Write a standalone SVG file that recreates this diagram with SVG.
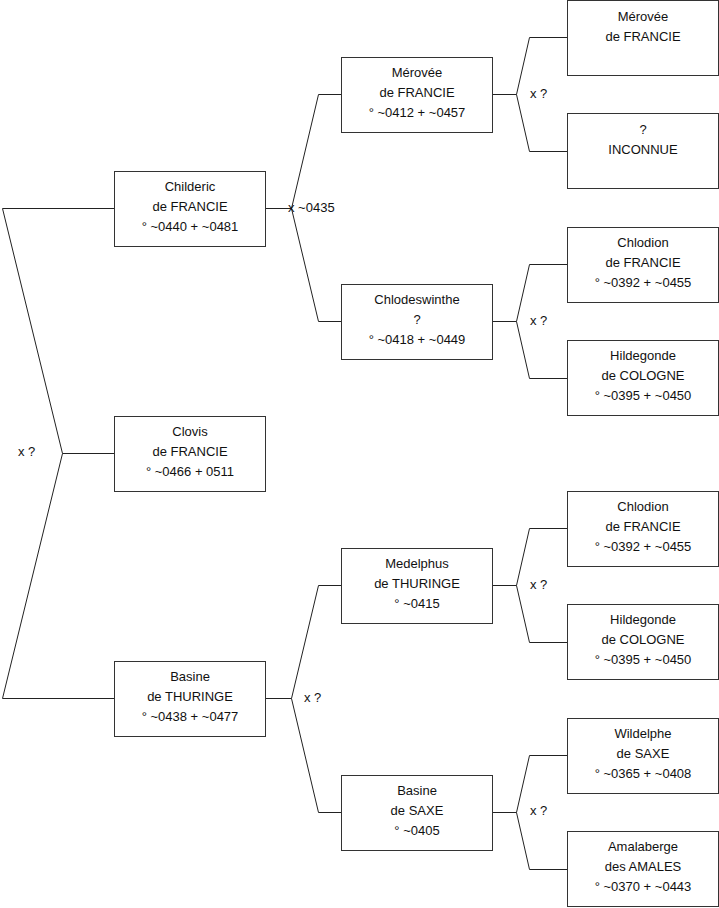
<svg xmlns="http://www.w3.org/2000/svg" width="719" height="908" viewBox="0 0 719 908">
<style>
.box{fill:#fff;stroke:#333;stroke-width:1}
.t{font-family:"Liberation Sans",Arial,sans-serif;font-size:13px;fill:#111;text-anchor:middle}
.l{font-family:"Liberation Sans",Arial,sans-serif;font-size:13px;fill:#111}
.c{fill:none;stroke:#222;stroke-width:1}
</style>
<rect width="719" height="908" fill="#fff"/>
<g id="connectors">
<path class="c" d="M114.5,208.5 H2.5 L62.5,453.5 L2.5,698.5 H114.5 M62.5,453.5 H114.5"/>
<path class="c" d="M265.5,208.5 H291.5 M341.5,94.5 H318.5 L291.5,208.5 L318.5,321.5 H341.5"/>
<path class="c" d="M265.5,698.5 H291.5 M341.5,585.5 H318.5 L291.5,698.5 L318.5,812.5 H341.5"/>
<path class="c" d="M492.5,94.5 H516.5 M567.5,37.5 H529.5 L516.5,94.5 L529.5,151.5 H567.5"/>
<path class="c" d="M492.5,321.5 H516.5 M567.5,264.5 H529.5 L516.5,321.5 L529.5,378.5 H567.5"/>
<path class="c" d="M492.5,585.5 H516.5 M567.5,528.5 H529.5 L516.5,585.5 L529.5,642.5 H567.5"/>
<path class="c" d="M492.5,812.5 H516.5 M567.5,755.5 H529.5 L516.5,812.5 L529.5,869.5 H567.5"/>
<text class="l" x="18" y="456">x ?</text>
<text class="l" x="288" y="212">x ~0435</text>
<text class="l" x="304" y="702">x ?</text>
<text class="l" x="530" y="98">x ?</text>
<text class="l" x="530" y="325">x ?</text>
<text class="l" x="530" y="589">x ?</text>
<text class="l" x="530" y="815">x ?</text>
</g>
<g id="childeric"><rect class="box" x="114.5" y="171.5" width="151" height="75"/><text class="t" x="190" y="191">Childeric</text><text class="t" x="190" y="211">de FRANCIE</text><text class="t" x="190" y="231">° ~0440 + ~0481</text></g>
<g id="clovis"><rect class="box" x="114.5" y="416.5" width="151" height="75"/><text class="t" x="190" y="436">Clovis</text><text class="t" x="190" y="456">de FRANCIE</text><text class="t" x="190" y="476">° ~0466 + 0511</text></g>
<g id="basine-thuringe"><rect class="box" x="114.5" y="661.5" width="151" height="75"/><text class="t" x="190" y="681">Basine</text><text class="t" x="190" y="701">de THURINGE</text><text class="t" x="190" y="721">° ~0438 + ~0477</text></g>
<g id="merovee"><rect class="box" x="341.5" y="57.5" width="151" height="75"/><text class="t" x="417" y="77">Mérovée</text><text class="t" x="417" y="97">de FRANCIE</text><text class="t" x="417" y="117">° ~0412 + ~0457</text></g>
<g id="chlodeswinthe"><rect class="box" x="341.5" y="284.5" width="151" height="75"/><text class="t" x="417" y="304">Chlodeswinthe</text><text class="t" x="417" y="324">?</text><text class="t" x="417" y="344">° ~0418 + ~0449</text></g>
<g id="medelphus"><rect class="box" x="341.5" y="548.5" width="151" height="75"/><text class="t" x="417" y="568">Medelphus</text><text class="t" x="417" y="588">de THURINGE</text><text class="t" x="417" y="608">° ~0415</text></g>
<g id="basine-saxe"><rect class="box" x="341.5" y="775.5" width="151" height="75"/><text class="t" x="417" y="795">Basine</text><text class="t" x="417" y="815">de SAXE</text><text class="t" x="417" y="835">° ~0405</text></g>
<g id="merovee2"><rect class="box" x="567.5" y="0.5" width="151" height="75"/><text class="t" x="643" y="21">Mérovée</text><text class="t" x="643" y="41">de FRANCIE</text></g>
<g id="inconnue"><rect class="box" x="567.5" y="113.5" width="151" height="75"/><text class="t" x="643" y="134">?</text><text class="t" x="643" y="154">INCONNUE</text></g>
<g id="chlodion1"><rect class="box" x="567.5" y="227.5" width="151" height="75"/><text class="t" x="643" y="247">Chlodion</text><text class="t" x="643" y="267">de FRANCIE</text><text class="t" x="643" y="287">° ~0392 + ~0455</text></g>
<g id="hildegonde1"><rect class="box" x="567.5" y="340.5" width="151" height="75"/><text class="t" x="643" y="360">Hildegonde</text><text class="t" x="643" y="380">de COLOGNE</text><text class="t" x="643" y="400">° ~0395 + ~0450</text></g>
<g id="chlodion2"><rect class="box" x="567.5" y="491.5" width="151" height="75"/><text class="t" x="643" y="511">Chlodion</text><text class="t" x="643" y="531">de FRANCIE</text><text class="t" x="643" y="551">° ~0392 + ~0455</text></g>
<g id="hildegonde2"><rect class="box" x="567.5" y="604.5" width="151" height="75"/><text class="t" x="643" y="624">Hildegonde</text><text class="t" x="643" y="644">de COLOGNE</text><text class="t" x="643" y="664">° ~0395 + ~0450</text></g>
<g id="wildelphe"><rect class="box" x="567.5" y="718.5" width="151" height="75"/><text class="t" x="643" y="738">Wildelphe</text><text class="t" x="643" y="758">de SAXE</text><text class="t" x="643" y="778">° ~0365 + ~0408</text></g>
<g id="amalaberge"><rect class="box" x="567.5" y="831.5" width="151" height="75"/><text class="t" x="643" y="851">Amalaberge</text><text class="t" x="643" y="871">des AMALES</text><text class="t" x="643" y="891">° ~0370 + ~0443</text></g>
</svg>
